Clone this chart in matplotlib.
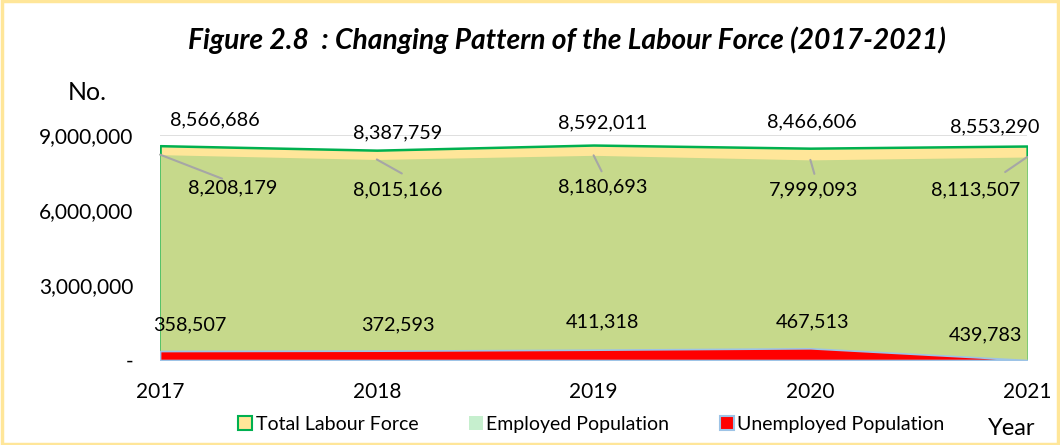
import matplotlib
matplotlib.use('Agg')
import matplotlib.pyplot as plt
from matplotlib.patches import Rectangle, Patch

plt.rcParams['font.family'] = ['Lato', 'DejaVu Sans']

years = [2017, 2018, 2019, 2020, 2021]
total = [8566686, 8387759, 8592011, 8466606, 8553290]
employed = [8208179, 8015166, 8180693, 7999093, 8113507]
unemployed = [358507, 372593, 411318, 467513, 439783]
# the red area in the source chart falls to nothing at 2021
unemployed_area = [358507, 372593, 411318, 467513, 0]

# label offsets in pixels (x, y)
total_off = [(55, 26), (21, 17), (9, 22), (2, 26), (-32, 19)]
employed_off = [(73, -33), (21, -30), (9, -32), (3, -30), (-52, -33)]
leader_end = [(62, -24), (25, -14), (8, -16), (4, -14), (-22, -15)]
unemployed_off = [(30, 26), (21, 26), (9, 28), (2, 26), (-42, 14)]

fig = plt.figure(figsize=(10.6, 4.45), dpi=100)
ax = fig.add_axes([0.151, 0.191, 0.818, 0.506])

ax.fill_between(years, total, color='#FFE699', edgecolor='#00B050', linewidth=1.8, zorder=2)
ax.fill_between(years, employed, color='#C6D98B', linewidth=0, zorder=3)
ax.fill_between(years, unemployed_area, color='#FF0000', edgecolor='#9DC3E6', linewidth=1.2, zorder=4)

ax.set_xlim(2017, 2021)
ax.set_ylim(0, 9000000)
ax.set_yticks([0, 3000000, 6000000, 9000000])
ax.set_yticklabels(['-', '3,000,000', '6,000,000', '9,000,000'])
ax.set_xticks(years)
ax.tick_params(axis='both', length=0, labelsize=15)
ax.tick_params(axis='y', pad=19)
ax.tick_params(axis='x', pad=16)
ax.grid(axis='y', color='#D9D9D9', linewidth=1.2, zorder=1)
ax.set_axisbelow(True)
for s in ax.spines.values():
    s.set_visible(False)
ax.axhline(0, color='#D9D9D9', linewidth=1, zorder=1)


def label_series(values, offsets):
    for x, v, off in zip(years, values, offsets):
        ax.annotate(f'{v:,}', (x, v), xytext=off, textcoords='offset pixels',
                    ha='center', va='center', fontsize=14.3, zorder=6,
                    annotation_clip=False)


label_series(total, total_off)
label_series(employed, employed_off)
label_series(unemployed, unemployed_off)

# leader lines for the employed labels
for x, v, end in zip(years, employed, leader_end):
    ax.annotate('', (x, v), xytext=end, textcoords='offset pixels', annotation_clip=False,
                arrowprops=dict(arrowstyle='-', color='#A6A6A6', lw=1.5, shrinkA=0, shrinkB=0),
                zorder=5)

fig.text(0.535, 0.91, 'Figure 2.8  : Changing Pattern of the Labour Force (2017-2021)',
         ha='center', va='center', fontsize=20.3, fontweight='bold', fontstyle='italic')
fig.text(0.064, 0.793, 'No.', ha='left', va='center', fontsize=18)
fig.text(0.932, 0.036, 'Year', ha='left', va='center', fontsize=17)

handles = [Patch(facecolor='#FFE699', edgecolor='#00B050', linewidth=1.5),
           Patch(facecolor='#C6EFCE', edgecolor='none'),
           Patch(facecolor='#FF0000', edgecolor='#9DC3E6', linewidth=1.5)]
fig.legend(handles, ['Total Labour Force', 'Employed Population', 'Unemployed Population'],
           loc='center', bbox_to_anchor=(0.558, 0.047), ncol=3, frameon=False,
           fontsize=14, handlelength=0.7, handleheight=0.7, handletextpad=0.2,
           columnspacing=2.6)

fig.patches.append(Rectangle((0.002, 0.003), 0.996, 0.994, transform=fig.transFigure,
                             fill=False, edgecolor='#FFE699', linewidth=2.5))

fig.savefig('out.png', dpi=100)
